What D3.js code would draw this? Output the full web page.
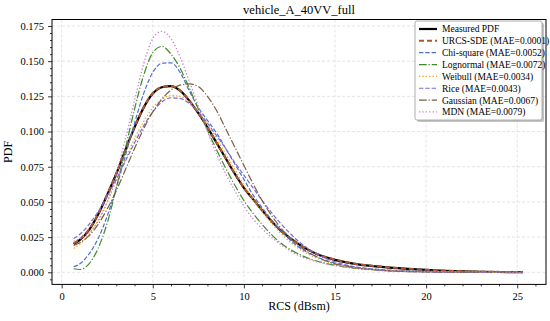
<!DOCTYPE html>
<html>
<head>
<meta charset="utf-8">
<script src="https://cdn.jsdelivr.net/npm/d3@7"></script>
<style>
  html, body { margin: 0; padding: 0; background: #fff; }
  svg { display: block; font-family: "Liberation Serif", "DejaVu Serif", serif; }
</style>
</head>
<body>
<div id="chart"></div>
<script>
/* Data (RCS in dBsm, PDF values) */
var rcs = [0.66, 1, 1.5, 2, 2.5, 3, 3.5, 4, 4.5, 5, 5.5, 6, 6.5, 7, 7.5, 8, 8.5, 9, 9.5, 10,
  10.5, 11, 12, 13, 14, 15, 16, 17, 18, 19, 20, 21, 22, 23, 24, 25.3];

var measured = [0.020, 0.023, 0.030, 0.041, 0.055, 0.070, 0.087, 0.103, 0.117, 0.127, 0.1315, 0.1322, 0.129, 0.122, 0.113, 0.103, 0.092, 0.081, 0.070, 0.060,
  0.052, 0.044, 0.030, 0.020, 0.013, 0.0088, 0.0062, 0.0045, 0.0033, 0.0024, 0.0017, 0.0011, 0.0007, 0.0004, 0.0002, 0.0001];
var urcs = [0.0205, 0.0235, 0.0305, 0.0412, 0.0553, 0.0702, 0.0872, 0.1032, 0.1172, 0.1272, 0.1316, 0.1323, 0.1291, 0.1221, 0.1131, 0.1031, 0.0921, 0.0811, 0.0701, 0.0601,
  0.0521, 0.0441, 0.0301, 0.0201, 0.0131, 0.0089, 0.0063, 0.0046, 0.0034, 0.0025, 0.0018, 0.0012, 0.0008, 0.0005, 0.0003, 0.0001];
var chiSquare = [0.004, 0.006, 0.013, 0.024, 0.040, 0.060, 0.083, 0.106, 0.127, 0.142, 0.1485, 0.1488, 0.142, 0.129, 0.117, 0.108, 0.099, 0.088, 0.077, 0.066,
  0.055, 0.046, 0.030, 0.018, 0.011, 0.0065, 0.004, 0.0025, 0.0015, 0.001, 0.0006, 0.0004, 0.0002, 0.0001, 0.0001, 0.0];
var lognormal = [0.0025, 0.002, 0.006, 0.017, 0.035, 0.060, 0.088, 0.116, 0.140, 0.156, 0.1605, 0.155, 0.145, 0.131, 0.116, 0.101, 0.087, 0.074, 0.062, 0.051,
  0.042, 0.034, 0.021, 0.013, 0.008, 0.005, 0.003, 0.002, 0.0012, 0.0008, 0.0005, 0.0003, 0.0002, 0.0001, 0.0001, 0.0];
var weibull = [0.017, 0.020, 0.027, 0.037, 0.050, 0.065, 0.080, 0.095, 0.107, 0.117, 0.123, 0.1255, 0.125, 0.121, 0.114, 0.105, 0.095, 0.084, 0.073, 0.062,
  0.052, 0.043, 0.028, 0.017, 0.010, 0.0058, 0.0032, 0.0017, 0.0009, 0.0005, 0.0002, 0.0001, 0.0, 0.0, 0.0, 0.0];
var rice = [0.024, 0.027, 0.034, 0.043, 0.054, 0.066, 0.079, 0.092, 0.104, 0.114, 0.121, 0.124, 0.1235, 0.120, 0.114, 0.106, 0.097, 0.088, 0.078, 0.069,
  0.060, 0.051, 0.035, 0.022, 0.013, 0.0075, 0.004, 0.002, 0.001, 0.0005, 0.0002, 0.0001, 0.0, 0.0, 0.0, 0.0];
var gaussian = [0.019, 0.021, 0.026, 0.034, 0.045, 0.058, 0.073, 0.088, 0.102, 0.114, 0.123, 0.1295, 0.133, 0.1338, 0.132, 0.125, 0.115, 0.102, 0.089, 0.076,
  0.063, 0.051, 0.032, 0.019, 0.011, 0.006, 0.0035, 0.002, 0.001, 0.0005, 0.0003, 0.0001, 0.0, 0.0, 0.0, 0.0];
var mdn = [0.022, 0.024, 0.028, 0.036, 0.050, 0.070, 0.095, 0.122, 0.148, 0.166, 0.1712, 0.166, 0.153, 0.136, 0.118, 0.100, 0.084, 0.070, 0.058, 0.047,
  0.038, 0.031, 0.020, 0.012, 0.0075, 0.0048, 0.0032, 0.0022, 0.0015, 0.001, 0.0007, 0.0005, 0.0003, 0.0002, 0.0001, 0.0];

var seriesNames = ['Measured PDF', 'URCS-SDE (MAE=0.0001)', 'Chi-square (MAE=0.0052)', 'Lognormal (MAE=0.0072)',
  'Weibull (MAE=0.0034)', 'Rice (MAE=0.0043)', 'Gaussian (MAE=0.0067)', 'MDN (MAE=0.0079)'];
var seriesValues = [measured, urcs, chiSquare, lognormal, weibull, rice, gaussian, mdn];

var xTicks = [0, 5, 10, 15, 20, 25];
var yTicks = [0, 0.025, 0.05, 0.075, 0.1, 0.125, 0.15, 0.175];

/* Line styles per series (same order as seriesNames) */
var styles = [
  { color: '#000000', width: 2.2, dash: null },
  { color: '#b0552e', width: 2.0, dash: '5,3' },
  { color: '#4a72c8', width: 1.2, dash: '4.4,1.9' },
  { color: '#3f8a2a', width: 1.2, dash: '7.7,1.9,1.2,1.9' },
  { color: '#e8a520', width: 1.3, dash: '1.3,2.1' },
  { color: '#7b6ad6', width: 1.2, dash: '4.4,1.9' },
  { color: '#7a5f42', width: 1.2, dash: '7.7,1.9,1.2,1.9' },
  { color: '#cc80cc', width: 1.3, dash: '1.3,2.1' }
];

var W = 550, H = 321;
var m = { top: 19.5, right: 4, bottom: 36.6, left: 52 };
var innerW = W - m.left - m.right;
var innerH = H - m.top - m.bottom;

var x = d3.scaleLinear().domain([-0.53, 26.58]).range([0, innerW]);
var y = d3.scaleLinear().domain([-0.0086, 0.1796]).range([innerH, 0]);

var svg = d3.select('#chart').append('svg')
  .attr('width', W)
  .attr('height', H);

var g = svg.append('g')
  .attr('transform', 'translate(' + m.left + ',' + m.top + ')');

/* Grid */
g.append('g')
  .selectAll('line')
  .data(xTicks)
  .join('line')
  .attr('x1', function (d) { return x(d); }).attr('x2', function (d) { return x(d); })
  .attr('y1', 0).attr('y2', innerH)
  .attr('stroke', '#d9d9d9').attr('stroke-width', 0.7).attr('stroke-dasharray', '3,2');
g.append('g')
  .selectAll('line')
  .data(yTicks)
  .join('line')
  .attr('y1', function (d) { return y(d); }).attr('y2', function (d) { return y(d); })
  .attr('x1', 0).attr('x2', innerW)
  .attr('stroke', '#d9d9d9').attr('stroke-width', 0.7).attr('stroke-dasharray', '3,2');

/* Curves */
var line = d3.line()
  .x(function (d) { return x(d[0]); })
  .y(function (d) { return y(d[1]); })
  .curve(d3.curveMonotoneX);

seriesValues.forEach(function (vals, i) {
  var pts = rcs.map(function (r, k) { return [r, vals[k]]; });
  g.append('path')
    .datum(pts)
    .attr('d', line)
    .attr('fill', 'none')
    .attr('stroke', styles[i].color)
    .attr('stroke-width', styles[i].width)
    .attr('stroke-dasharray', styles[i].dash);
});

/* Axes */
var xAxis = g.append('g')
  .attr('transform', 'translate(0,' + innerH + ')')
  .call(d3.axisBottom(x).tickValues(xTicks).tickSize(4).tickPadding(4).tickFormat(d3.format('d')));
var xMinor = g.append('g')
  .attr('transform', 'translate(0,' + innerH + ')')
  .call(d3.axisBottom(x).tickValues(d3.range(0, 27, 1).filter(function (v) { return v % 5 !== 0; })).tickSize(2).tickFormat(''));
var yAxis = g.append('g')
  .call(d3.axisLeft(y).tickValues(yTicks).tickSize(4).tickPadding(4).tickFormat(d3.format('.3f')));
var yMinor = g.append('g')
  .call(d3.axisLeft(y).tickValues(d3.range(-0.005, 0.18, 0.005).filter(function (v) {
    return Math.abs(v / 0.025 - Math.round(v / 0.025)) > 0.01;
  })).tickSize(2).tickFormat(''));

[xAxis, xMinor, yAxis, yMinor].forEach(function (a) {
  a.select('.domain').remove();
  a.selectAll('.tick line').attr('stroke', '#000').attr('stroke-width', 0.8);
  a.selectAll('text')
    .attr('fill', '#000')
    .attr('font-size', '10.5px')
    .attr('font-family', '"Liberation Serif", serif');
});

/* Frame */
g.append('rect')
  .attr('width', innerW).attr('height', innerH)
  .attr('fill', 'none').attr('stroke', '#000').attr('stroke-width', 1);

/* Title and axis labels */
svg.append('text')
  .attr('x', m.left + innerW / 2).attr('y', 14)
  .attr('text-anchor', 'middle')
  .attr('font-size', '12.5px')
  .text('vehicle_A_40VV_full');

svg.append('text')
  .attr('x', m.left + innerW / 2).attr('y', 310)
  .attr('text-anchor', 'middle')
  .attr('font-size', '12px')
  .text('RCS (dBsm)');

svg.append('text')
  .attr('transform', 'translate(12,' + (m.top + innerH / 2) + ') rotate(-90)')
  .attr('text-anchor', 'middle')
  .attr('font-size', '12px')
  .text('PDF');

/* Legend */
var lgW = 127, lgH = 99;
var lg = svg.append('g').attr('transform', 'translate(415,21)');
lg.append('rect')
  .attr('x', 2).attr('y', 2).attr('width', lgW).attr('height', lgH)
  .attr('rx', 2).attr('fill', '#888').attr('opacity', 0.5);
lg.append('rect')
  .attr('width', lgW).attr('height', lgH)
  .attr('rx', 2).attr('fill', '#fff').attr('stroke', '#999').attr('stroke-width', 0.8);

var rowH = 11.85;
var rows = lg.selectAll('.lg-row')
  .data(seriesNames)
  .join('g')
  .attr('class', 'lg-row')
  .attr('transform', function (d, i) { return 'translate(0,' + (8 + i * rowH) + ')'; });

rows.append('line')
  .attr('x1', 4).attr('x2', 22)
  .attr('stroke', function (d, i) { return styles[i].color; })
  .attr('stroke-width', function (d, i) { return styles[i].width; })
  .attr('stroke-dasharray', function (d, i) { return styles[i].dash; });

rows.append('text')
  .attr('x', 27).attr('y', 3.4)
  .attr('font-size', '9.5px')
  .attr('fill', '#000')
  .text(function (d) { return d; });
</script>
</body>
</html>
